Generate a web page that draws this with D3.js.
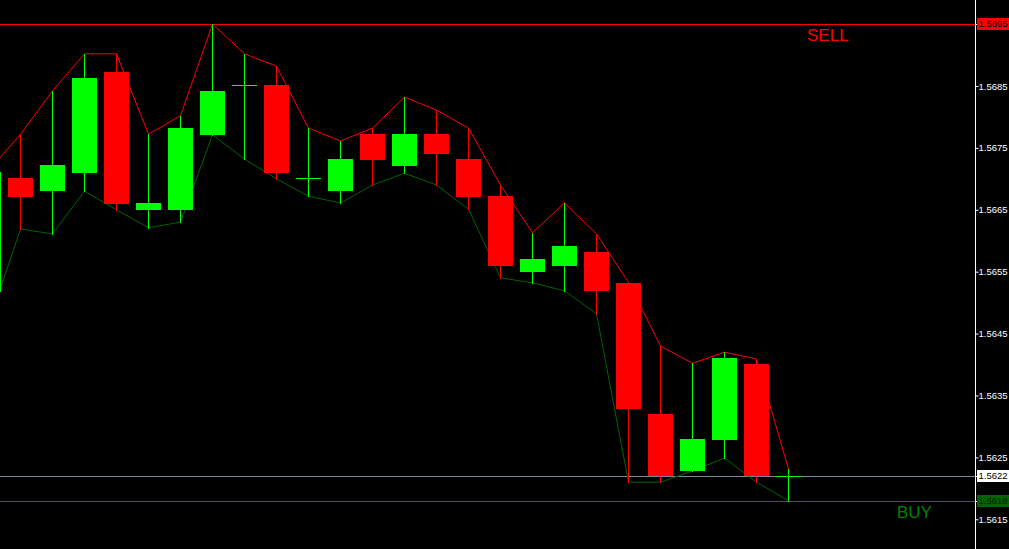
<!DOCTYPE html>
<html><head><meta charset="utf-8">
<script src="https://cdn.jsdelivr.net/npm/d3@7"></script>
<style>html,body{margin:0;padding:0;background:#000;overflow:hidden}</style>
</head><body><svg id="c" width="1009" height="549"></svg>
<script>
// ---- data ----
const bars   = [-1, 0, 1, 2, 3, 4, 5, 6, 7, 8, 9, 10, 11, 12, 13, 14, 15, 16, 17, 18, 19, 20, 21, 22, 23, 24];
const opens  = [1.56517, 1.56701, 1.56680, 1.56709, 1.56873, 1.56650, 1.56650, 1.56771, 1.56851, 1.56852, 1.56701, 1.56680, 1.56772, 1.56721, 1.56772, 1.56732, 1.56672, 1.56550, 1.56559, 1.56582, 1.56532, 1.56320, 1.56228, 1.56278, 1.56401, 1.56220];
const highs  = [1.56713, 1.56772, 1.56842, 1.56902, 1.56902, 1.56772, 1.56802, 1.56950, 1.56902, 1.56882, 1.56782, 1.56761, 1.56782, 1.56832, 1.56811, 1.56782, 1.56690, 1.56613, 1.56661, 1.56611, 1.56533, 1.56430, 1.56402, 1.56420, 1.56409, 1.56231];
const lows   = [1.56466, 1.56619, 1.56611, 1.56680, 1.56650, 1.56621, 1.56630, 1.56771, 1.56732, 1.56700, 1.56672, 1.56661, 1.56690, 1.56709, 1.56690, 1.56651, 1.56540, 1.56532, 1.56519, 1.56482, 1.56210, 1.56210, 1.56228, 1.56249, 1.56210, 1.56180];
const closes = [1.56711, 1.56671, 1.56722, 1.56863, 1.56659, 1.56661, 1.56782, 1.56842, 1.56851, 1.56709, 1.56701, 1.56732, 1.56730, 1.56772, 1.56740, 1.56671, 1.56559, 1.56571, 1.56592, 1.56519, 1.56328, 1.56220, 1.56280, 1.56411, 1.56220, 1.56220];
const tickValues = [1.5685, 1.5675, 1.5665, 1.5655, 1.5645, 1.5635, 1.5625, 1.5615];
const sellLevel = 1.5695;
const bidLevel = 1.5622;
const buyLevel = 1.5618;
const sellText = "SELL";
const buyText = "BUY";

// ---- layout ----
const W = 1009, H = 549, plotRight = 975;
const svg = d3.select("#c");
svg.append("rect").attr("width", W).attr("height", H).attr("fill", "#000");

const x = d3.scaleLinear().domain([0, 24]).range([20.5, 788.5]);
const y = d3.scaleLinear().domain([1.561020, 1.569889]).range([549, 0]);
const crisp = v => Math.round(v) + 0.5;
const FONT = "Liberation Sans, Arial, sans-serif";
const LABEL_SIZE = 9.5;

svg.append("clipPath").attr("id", "plot").append("rect")
  .attr("x", 0).attr("y", 0).attr("width", plotRight).attr("height", H);
const g = svg.append("g").attr("clip-path", "url(#plot)");

const data = bars.map((b, i) => ({b, o: opens[i], h: highs[i], l: lows[i], c: closes[i]}));

// horizontal level lines
g.append("line").attr("x1", 0).attr("x2", plotRight)
  .attr("y1", crisp(y(sellLevel))).attr("y2", crisp(y(sellLevel)))
  .attr("stroke", "#ff0000").attr("stroke-width", 1);
g.append("line").attr("x1", 0).attr("x2", plotRight)
  .attr("y1", crisp(y(bidLevel))).attr("y2", crisp(y(bidLevel)))
  .attr("stroke", "#778899").attr("stroke-width", 1);
g.append("line").attr("x1", 0).attr("x2", plotRight)
  .attr("y1", crisp(y(buyLevel))).attr("y2", crisp(y(buyLevel)))
  .attr("stroke", "#008000").attr("stroke-width", 1);

// high / low envelope lines
g.append("path").datum(data)
  .attr("d", d3.line().x(d => x(d.b)).y(d => y(d.h)))
  .attr("fill", "none").attr("stroke", "#ff0000").attr("stroke-width", 1);
g.append("path").datum(data)
  .attr("d", d3.line().x(d => x(d.b)).y(d => y(d.l)))
  .attr("fill", "none").attr("stroke", "#006400").attr("stroke-width", 1);

const col = d => d.c >= d.o ? "#00ff00" : "#ff0000";

// wicks
g.selectAll(".wick").data(data).join("line")
  .attr("x1", d => x(d.b)).attr("x2", d => x(d.b))
  .attr("y1", d => Math.round(y(d.h))).attr("y2", d => Math.round(y(d.l)) + 1)
  .attr("stroke", col).attr("stroke-width", 1);

// bodies
g.selectAll(".body").data(data.filter(d => d.o !== d.c)).join("rect")
  .attr("x", d => x(d.b) - 12.5)
  .attr("width", 25)
  .attr("y", d => Math.round(y(Math.max(d.o, d.c))))
  .attr("height", d => Math.max(1, Math.round(y(Math.min(d.o, d.c))) - Math.round(y(Math.max(d.o, d.c)))))
  .attr("fill", col);

// doji crosses
g.selectAll(".doji").data(data.filter(d => d.o === d.c)).join("line")
  .attr("x1", d => x(d.b) - 12.5).attr("x2", d => x(d.b) + 12.5)
  .attr("y1", d => crisp(y(d.c))).attr("y2", d => crisp(y(d.c)))
  .attr("stroke", "#00ff00").attr("stroke-width", 1);

// SELL / BUY text
svg.append("text").attr("x", 807).attr("y", 40.5).text(sellText)
  .attr("fill", "#ff0000").attr("font-family", FONT).attr("font-size", 17);
svg.append("text").attr("x", 897).attr("y", 517.5).text(buyText)
  .attr("fill", "#008000").attr("font-family", FONT).attr("font-size", 17);

// right axis
const axis = d3.axisRight(y).tickValues(tickValues).tickSize(3).tickPadding(0)
  .tickFormat(d3.format(".4f"));
const ax = svg.append("g").attr("transform", `translate(${plotRight + 0.5},0)`).call(axis);
ax.select(".domain").attr("d", `M0,0V${H}`).attr("stroke", "#fff");
ax.selectAll(".tick line").attr("stroke", "#fff");
ax.selectAll(".tick text").attr("fill", "#fff")
  .attr("font-family", FONT).attr("font-size", LABEL_SIZE);

// price marker labels
const markers = [
  {v: sellLevel, bg: "#ff0000", fg: "#000"},
  {v: bidLevel, bg: "#ffffff", fg: "#000"},
  {v: buyLevel, bg: "#006400", fg: "#001a00"}
];
const mk = svg.append("g").selectAll("g").data(markers).join("g");
mk.append("line").attr("x1", plotRight).attr("x2", plotRight + 3)
  .attr("y1", d => crisp(y(d.v))).attr("y2", d => crisp(y(d.v))).attr("stroke", "#fff");
mk.append("rect").attr("x", 977).attr("width", 32)
  .attr("y", d => Math.round(y(d.v)) - 6).attr("height", 12).attr("fill", d => d.bg);
mk.append("text").attr("x", 978.5).attr("y", d => y(d.v)).attr("dy", "0.35em")
  .text(d => d3.format(".4f")(d.v)).attr("fill", d => d.fg)
  .attr("font-family", FONT).attr("font-size", LABEL_SIZE);
</script>
</body></html>
